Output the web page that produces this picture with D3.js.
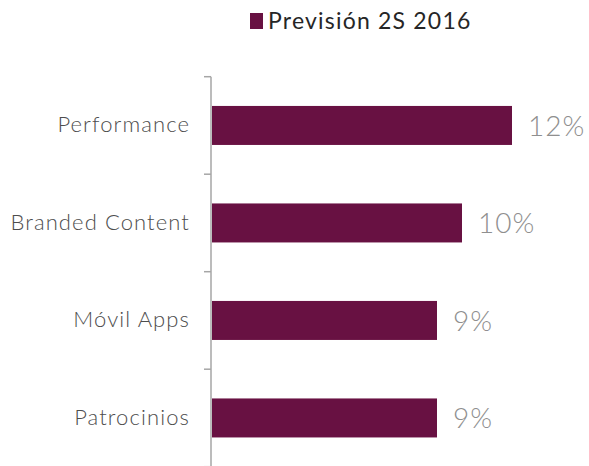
<!DOCTYPE html>
<html><head><meta charset="utf-8">
<script src="https://cdn.jsdelivr.net/npm/d3@7"></script>
<style>body{margin:0;background:#fff;} svg{display:block;}</style>
</head><body>
<svg id="c" width="589" height="466"></svg>
<script>
const categories = ["Performance", "Branded Content", "Móvil Apps", "Patrocinios"];
const values = [12, 10, 9, 9];
const valueLabels = ["12%", "10%", "9%", "9%"];
const seriesName = "Previsión 2S 2016";

const svg = d3.select("#c");
const color = "#681142";
const font = "Lato, 'Open Sans', sans-serif";

const y = d3.scaleBand().domain(categories).range([76.7, 466.7]).paddingInner(0.6).paddingOuter(0.3);
const x = d3.scaleLinear().domain([0, 14]).range([211, 561]);

// bars
svg.selectAll("rect.bar").data(categories).enter().append("rect")
  .attr("class", "bar")
  .attr("x", x(0) + 1)
  .attr("y", d => y(d))
  .attr("width", (d, i) => x(values[i]) - x(0))
  .attr("height", y.bandwidth())
  .attr("fill", color);

// value labels
svg.selectAll("text.val").data(categories).enter().append("text")
  .attr("class", "val")
  .attr("x", (d, i) => x(values[i]) + 17)
  .attr("y", d => y(d) + y.bandwidth() / 2)
  .attr("dy", "0.36em")
  .attr("font-family", font)
  .attr("font-weight", 300)
  .attr("font-size", 28)
  .attr("letter-spacing", 1)
  .attr("fill", "#8f8f8f")
  .text((d, i) => valueLabels[i]);

// axis
const yAxisScale = d3.scaleBand().domain(categories).range([76.7, 466.7]);
const axis = d3.axisLeft(yAxisScale).tickSize(0).tickPadding(21);
const g = svg.append("g").attr("transform", "translate(211,0)").call(axis);
g.select(".domain").remove();
g.selectAll("text").attr("font-family", font).attr("font-size", 22).attr("letter-spacing", 1.1)
  .attr("font-weight", 300).attr("fill", "#4d4d4d");
// boundary ticks
const bounds = [76.7].concat(categories.map(c => yAxisScale(c) + yAxisScale.bandwidth()));
svg.append("line").attr("x1", 211).attr("x2", 211).attr("y1", bounds[0]).attr("y2", bounds[bounds.length-1])
  .attr("stroke", "#a6a6a6").attr("stroke-width", 1.5);
svg.selectAll("line.tk").data(bounds).enter().append("line")
  .attr("class", "tk")
  .attr("x1", 204).attr("x2", 211).attr("y1", d => d).attr("y2", d => d)
  .attr("stroke", "#a6a6a6").attr("stroke-width", 1.5);

// legend
svg.append("rect").attr("x", 250).attr("y", 13).attr("width", 13).attr("height", 16).attr("fill", color);
svg.append("text").attr("x", 268).attr("y", 29).attr("font-family", font).attr("font-size", 23)
  .attr("letter-spacing", 1.2).attr("fill", "#262626").text(seriesName);
</script>
</body></html>
